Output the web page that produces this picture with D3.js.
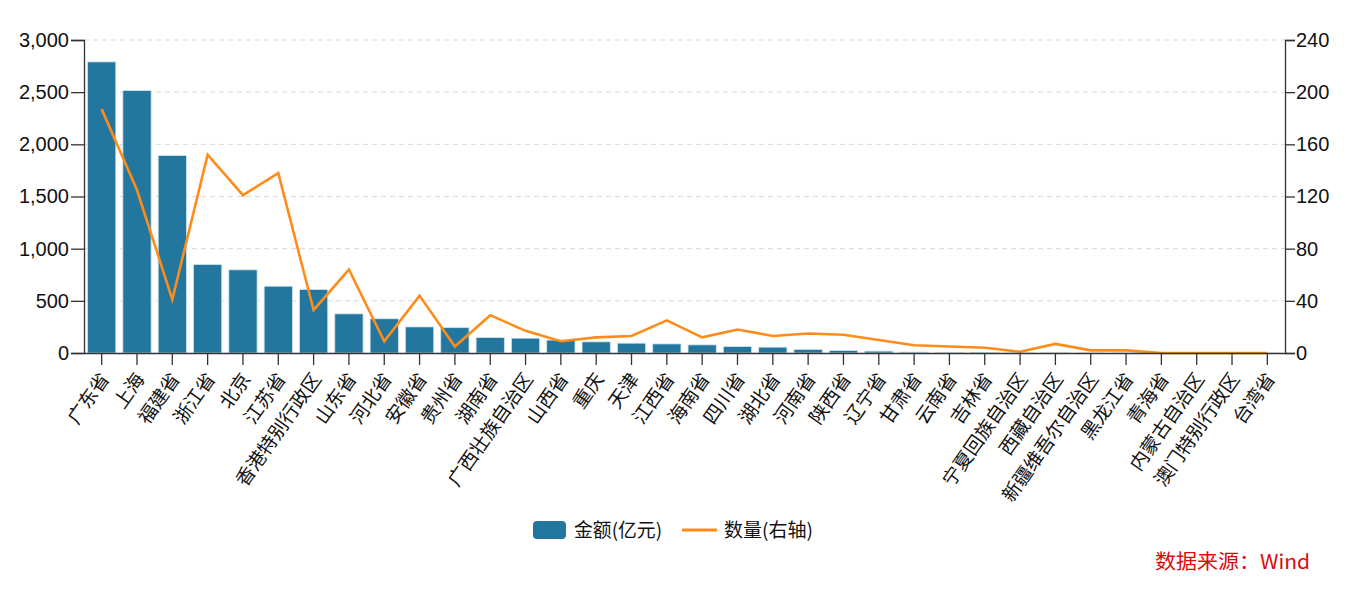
<!DOCTYPE html>
<html>
<head>
<meta charset="utf-8">
<script src="https://cdn.jsdelivr.net/npm/d3@7"></script>
<style>
  body { margin: 0; background: #fff; }
  svg text { font-family: "Liberation Sans", "Noto Sans CJK SC", sans-serif; }
</style>
</head>
<body>
<div id="chart"></div>
<script>
// categories, amounts (亿元) and counts (right axis)
var regions = ["广东省","上海","福建省","浙江省","北京","江苏省","香港特别行政区","山东省","河北省","安徽省",
  "贵州省","湖南省","广西壮族自治区","山西省","重庆","天津","江西省","海南省","四川省","湖北省",
  "河南省","陕西省","辽宁省","甘肃省","云南省","吉林省","宁夏回族自治区","西藏自治区","新疆维吾尔自治区","黑龙江省",
  "青海省","内蒙古自治区","澳门特别行政区","台湾省"];
var amounts = [2790,2515,1892,848,797,640,608,375,328,250,
  243,148,142,124,107,94,87,78,62,56,
  34,24,18,9,4,3,1,1,0.5,0.5,
  0.3,0.2,0.1,0.1];
var counts = [187,125,41,152,121,138,33,64,9,44,
  5,29,17,9,12,13,25,12,18,13,
  15,14,10,6,5,4,1,7,2,2,
  0,0,0,0];
var leftTicks = [0,500,1000,1500,2000,2500,3000];
var rightTicks = [0,40,80,120,160,200,240];

var W = 1351, H = 592;
var m = {left: 84, right: 66, top: 40, bottom: 239};
var innerW = W - m.left - m.right, innerH = H - m.top - m.bottom;

var svg = d3.select("#chart").append("svg").attr("width", W).attr("height", H);
var g = svg.append("g").attr("transform", "translate(" + m.left + "," + m.top + ")");

var x = d3.scaleBand().domain(regions).range([0, innerW]).paddingInner(0.2).paddingOuter(0.1);
var yL = d3.scaleLinear().domain([0, 3000]).range([innerH, 0]);
var yR = d3.scaleLinear().domain([0, 240]).range([innerH, 0]);

// grid
g.append("g").selectAll("line").data(leftTicks.slice(1)).enter().append("line")
  .attr("x1", 0).attr("x2", innerW)
  .attr("y1", d => yL(d)).attr("y2", d => yL(d))
  .attr("stroke", "#d9d9d9").attr("stroke-dasharray", "5,4");

// bars
g.append("g").selectAll("rect").data(regions).enter().append("rect")
  .attr("x", d => x(d))
  .attr("width", x.bandwidth())
  .attr("y", (d, i) => yL(amounts[i]))
  .attr("height", (d, i) => innerH - yL(amounts[i]))
  .attr("fill", "#23779f")
  .attr("stroke", "#cfe3ee").attr("stroke-width", 0.8);

// line
var line = d3.line().x((d, i) => x(regions[i]) + x.bandwidth() / 2).y(d => yR(d));
g.append("path").datum(counts)
  .attr("d", line).attr("fill", "none")
  .attr("stroke", "#ff8c1a").attr("stroke-width", 2.6);

// axes
var fmt = d3.format(",");
var axL = g.append("g").call(d3.axisLeft(yL).tickValues(leftTicks).tickFormat(fmt).tickSize(13).tickPadding(2));
var axR = g.append("g").attr("transform", "translate(" + innerW + ",0)")
  .call(d3.axisRight(yR).tickValues(rightTicks).tickSize(10).tickPadding(1));
var axB = g.append("g").attr("transform", "translate(0," + innerH + ")")
  .call(d3.axisBottom(x).tickSize(12).tickSizeOuter(0));

[axL, axR, axB].forEach(function(a){
  a.selectAll("path, line").attr("stroke", "#333").attr("stroke-width", 1.3);
  a.selectAll("text").attr("fill", "#111").style("font-size", "20px");
});

axB.selectAll("text")
  .style("font-family", "'Noto Sans CJK SC', sans-serif")
  .style("font-size", "19px")
  .attr("text-anchor", "end")
  .attr("dy", "0.35em")
  .attr("transform", "translate(3,22) rotate(-55)")
  .attr("x", 0).attr("y", 0);

// legend
var lg = svg.append("g").attr("transform", "translate(533,521)");
lg.append("rect").attr("width", 33).attr("height", 18).attr("rx", 4).attr("fill", "#23779f");
lg.append("text").attr("x", 41).attr("y", 16).style("font-size", "19px")
  .style("font-family", "'Noto Sans CJK SC', sans-serif").attr("fill", "#111")
  .attr("textLength", 88).attr("lengthAdjust", "spacingAndGlyphs").text("金额(亿元)");
lg.append("line").attr("x1", 149).attr("x2", 184).attr("y1", 9).attr("y2", 9)
  .attr("stroke", "#ff8c1a").attr("stroke-width", 3);
lg.append("text").attr("x", 191).attr("y", 16).style("font-size", "19px")
  .style("font-family", "'Noto Sans CJK SC', sans-serif").attr("fill", "#111")
  .attr("textLength", 89).attr("lengthAdjust", "spacingAndGlyphs").text("数量(右轴)");

// source
svg.append("text").attr("x", 1310).attr("y", 569).attr("text-anchor", "end")
  .style("font-size", "20px").style("font-family", "'Noto Sans CJK SC', sans-serif")
  .attr("fill", "#d80c0c").attr("textLength", 155).attr("lengthAdjust", "spacingAndGlyphs")
  .text("数据来源：Wind");
</script>
</body>
</html>
